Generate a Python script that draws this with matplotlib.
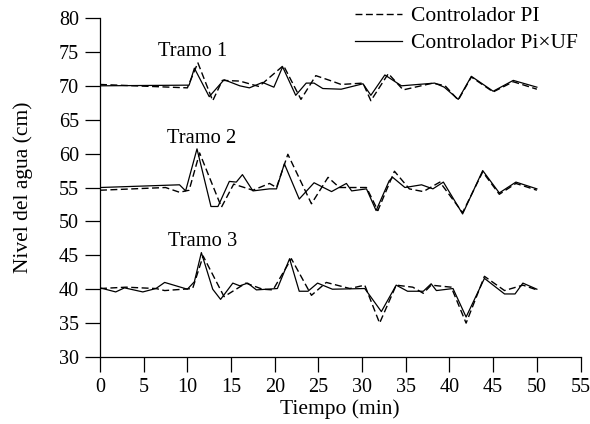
import matplotlib
matplotlib.use("Agg")
import matplotlib.pyplot as plt

plt.rcParams["font.family"] = ["Liberation Serif", "DejaVu Serif"]

# Tramo 1
t1_pi = [0, 10, 11.2, 12.9, 14, 16, 18.2, 21, 23, 24.7, 26.3, 27.6, 30.1, 31, 33,
         34.7, 38.1, 39.5, 41, 42.5, 45, 47.3, 50]
v1_pi = [70.2, 69.7, 73.4, 67.8, 70.8, 70.7, 69.9, 73, 68, 71.5, 70.8, 70.2, 70.4,
         67.8, 71.8, 69.4, 70.4, 70, 67.9, 71.3, 69.1, 70.6, 69.5]
t1_uf = [0, 10.2, 10.8, 12.5, 14.2, 16, 17.1, 18.6, 19.9, 20.9, 22.4, 23.6, 24.5,
         25.5, 27.6, 30.1, 31.0, 32.6, 34.5, 38.3, 39.4, 41, 42.5, 45, 47.3, 50]
v1_uf = [70, 70.1, 72.6, 68.4, 70.9, 70, 69.7, 70.5, 69.8, 72.8, 68.6, 70.4, 70.4,
         69.6, 69.5, 70.3, 68.6, 71.6, 70.0, 70.4, 69.8, 68, 71.4, 69.2, 70.8, 69.8]

# Tramo 2
t2_pi = [0, 7.5, 9.1, 10.2, 11.4, 13.9, 15.3, 17.5, 19.4, 20.2, 21.5, 24.2, 26.1,
         27.4, 30.5, 31.8, 33.7, 35.4, 37, 38.9, 41.5, 43.8, 45.7, 47.6, 50]
v2_pi = [54.6, 55, 54.3, 54.6, 60.1, 52.1, 55.5, 54.6, 55.6, 55, 59.9, 52.6, 56.5,
         55, 55, 51.6, 57.4, 54.8, 54.4, 55.8, 51.3, 57.3, 54.0, 55.6, 54.6]
t2_uf = [0, 9.1, 9.8, 11.1, 12.7, 13.5, 14.8, 15.6, 16.3, 17.5, 19.4, 20.2, 21.1,
         22.8, 24.5, 26.5, 28.2, 28.8, 30.5, 31.6, 33.1, 33.5, 34.9, 36.8, 38.1,
         39.3, 41.5, 43.8, 45.7, 47.6, 50]
v2_uf = [55, 55.4, 54.5, 60.7, 52.2, 52.2, 55.9, 55.8, 56.9, 54.5, 54.8, 54.8, 58.5,
         53.3, 55.7, 54.4, 55.6, 54.5, 54.8, 51.6, 56, 56.5, 55, 55.4, 54.8, 55.8,
         51.1, 57.5, 54.2, 55.8, 54.8]

# Tramo 3
t3_pi = [0, 3, 6.4, 7.4, 10.6, 11.8, 14.2, 16.7, 18.6, 19.8, 21.9, 24.2, 25.9, 28.6,
         30.3, 32, 33.9, 35.8, 37, 37.9, 40.2, 41.9, 44, 46.3, 48.4, 50]
v3_pi = [40.1, 40.3, 40.1, 39.8, 40.1, 44.9, 38.9, 40.9, 40, 39.9, 44.5, 39.1, 41,
         40.1, 40.6, 35, 40.6, 40.3, 39.4, 40.6, 40.3, 35, 41.9, 39.8, 40.6, 39.9]
t3_uf = [0, 1.8, 2.8, 4.9, 6.4, 7.4, 10, 10.8, 11.6, 12.9, 13.8, 15.2, 16, 16.9,
         17.9, 20.3, 21.7, 22.8, 23.8, 24.9, 26.6, 30.3, 32.2, 33.9, 35.2, 37, 37.9,
         38.5, 40.4, 41.9, 44, 46.3, 47.5, 48.4, 50]
v3_uf = [40.2, 39.6, 40.2, 39.6, 40.1, 41, 40, 41.1, 45.4, 40, 38.5, 40.9, 40.5,
         40.9, 39.9, 40.1, 44.5, 39.7, 39.7, 40.9, 40, 40.1, 36.7, 40.6, 39.7, 39.7,
         40.8, 39.8, 40.1, 35.9, 41.6, 39.3, 39.3, 40.9, 40.0]

tramos = ["Tramo 1", "Tramo 2", "Tramo 3"]
tramo_pos = [(10.6, 75.0), (11.6, 62.3), (11.8, 47.1)]

fig = plt.figure(figsize=(5.9, 4.24), dpi=100)
ax = fig.add_axes([0.1695, 0.158, 0.8145, 0.7995])

dash = (0, (5, 2.5))
series = [(t1_pi, v1_pi, t1_uf, v1_uf), (t2_pi, v2_pi, t2_uf, v2_uf),
          (t3_pi, v3_pi, t3_uf, v3_uf)]
for i, (tp, vp, tu, vu) in enumerate(series):
    ax.plot(tp, vp, color="black", lw=1.0, linestyle=dash,
            label="Controlador PI" if i == 0 else None)
    ax.plot(tu, vu, color="black", lw=0.9,
            label="Controlador Pi×UF" if i == 0 else None)

for name, (x, y) in zip(tramos, tramo_pos):
    ax.text(x, y, name, ha="center", va="center", fontsize=14.8)

ax.set_xlim(0, 55)
ax.set_ylim(30, 80)
ax.set_xticks(range(0, 56, 5))
ax.set_yticks(range(30, 81, 5))
ax.spines["top"].set_visible(False)
ax.spines["right"].set_visible(False)
for s in ("left", "bottom"):
    ax.spines[s].set_linewidth(0.9)
ax.tick_params(direction="out", length=11, width=0.9, labelsize=14.5, pad=4)

ax.set_xlabel("Tiempo (min)", fontsize=15.5, labelpad=2)
ax.set_ylabel("Nivel del agua (cm)", fontsize=15.5, labelpad=19)

ax.legend(loc="upper right", bbox_to_anchor=(1.025, 1.08), frameon=False,
          fontsize=15.5, handlelength=2.2, handletextpad=0.4,
          labelspacing=0.34, borderpad=0.2)

fig.savefig("out.png", dpi=100)
